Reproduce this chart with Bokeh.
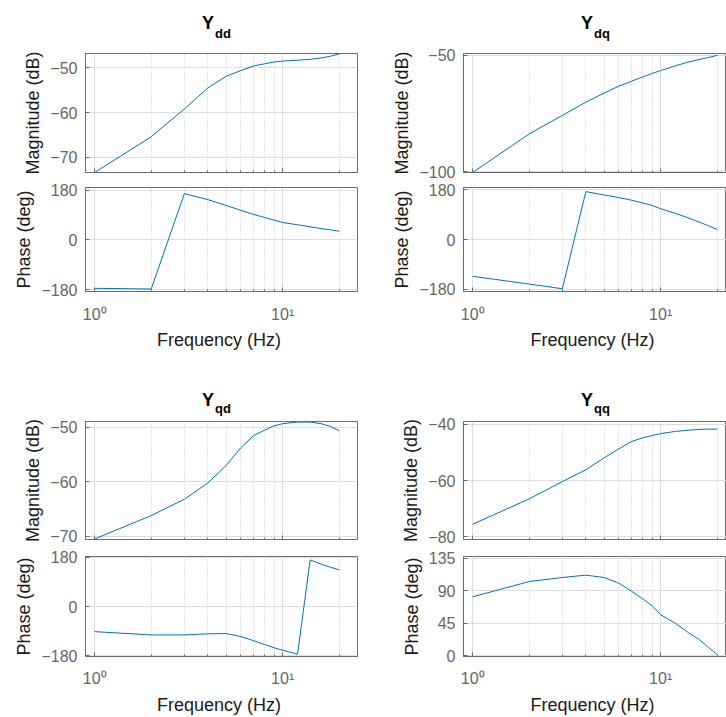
from bokeh.plotting import figure
from bokeh.layouts import column, row
from bokeh.models import Range1d, FixedTicker, CustomJSTickFormatter, Div
from bokeh.embed import file_html
from bokeh.resources import INLINE

# ---------------- data ----------------
freq_hz = [1, 2, 3, 4, 5, 6, 7, 8, 9, 10, 12, 14, 16, 18, 20]

ydd_mag_db = [-73.4, -65.4, -59.2, -54.5, -51.9, -50.6, -49.6, -49.1, -48.7, -48.5, -48.3, -48.1, -47.8, -47.4, -46.9]
ydd_phase_deg = [-175.5, -178.0, 168.0, 146.0, 125.0, 107.0, 92.5, 81.5, 72.0, 63.0, 55.0, 47.5, 41.0, 36.5, 31.5]

ydq_mag_db = [-100.4, -83.8, -75.9, -70.2, -66.3, -63.3, -61.2, -59.4, -57.9, -56.6, -54.6, -53.0, -51.9, -51.0, -50.1]
ydq_phase_deg = [-133.0, -161.0, -178.0, 174.0, 162.0, 152.5, 143.0, 133.5, 124.0, 112.0, 95.0, 79.0, 64.0, 50.0, 36.6]

yqd_mag_db = [-70.5, -66.2, -63.2, -60.2, -57.0, -53.7, -51.5, -50.5, -49.7, -49.3, -49.0, -49.0, -49.3, -49.8, -50.6]
yqd_phase_deg = [-92.0, -104.0, -104.0, -100.0, -99.0, -110.0, -125.0, -139.0, -151.0, -160.0, -174.5, 170.7, 155.0, 143.5, 134.0]

yqq_mag_db = [-75.5, -66.5, -60.4, -56.2, -52.0, -48.8, -46.2, -44.9, -44.1, -43.4, -42.6, -42.2, -41.9, -41.8, -41.8]
yqq_phase_deg = [81.4, 102.4, 108.1, 111.3, 108.1, 100.1, 89.0, 78.8, 69.0, 56.5, 44.5, 32.0, 22.3, 11.1, 1.3]

subscripts = ["dd", "dq", "qd", "qq"]
mag_ticks = [[-70, -60, -50], [-100, -50], [-70, -60, -50], [-80, -60, -40]]
phase_ticks = [[-180, 0, 180], [-180, 0, 180], [-180, 0, 180], [0, 45, 90, 135]]
mag_limits = [(-73.4, -46.8), (-100.4, -49.3), (-70.6, -48.9), (-80.9, -39.1)]
phase_limits = [(-187, 190), (-188, 189), (-183, 183), (-1.3, 137.1)]
x_major = [1, 10]
x_minor = [2, 3, 4, 5, 6, 7, 8, 9, 20]

# ---------------- style ----------------
FONT = "Liberation Sans"
BLUE = "#0072BD"
FRAME = "#6b6b6b"
TICKTXT = "#666666"
LABEL = "#1a1a1a"
GRID = "#dedede"
MINOR = "#c9c9c9"

X_START = 0.894
X_END_FULL = 25.0


def style(p, yticks, ylabel):
    p.outline_line_color = FRAME
    p.outline_line_width = 1
    p.background_fill_color = "white"
    p.border_fill_color = "white"
    p.yaxis.ticker = FixedTicker(ticks=yticks)
    p.xaxis.ticker = FixedTicker(ticks=x_major, minor_ticks=x_minor)
    for ax in p.axis:
        ax.axis_line_color = FRAME
        ax.major_tick_line_color = FRAME
        ax.minor_tick_line_color = FRAME
        ax.major_tick_in = 4
        ax.major_tick_out = 0
        ax.minor_tick_in = 2
        ax.minor_tick_out = 0
        ax.major_label_text_font = FONT
        ax.major_label_text_color = TICKTXT
        ax.major_label_text_font_size = "16px"
        ax.axis_label_text_font = FONT
        ax.axis_label_text_color = LABEL
        ax.axis_label_text_font_size = "18px"
        ax.axis_label_text_font_style = "normal"
    p.yaxis.minor_tick_line_color = None
    p.yaxis.major_label_standoff = 8
    p.yaxis.axis_label = ylabel
    p.yaxis.axis_label_standoff = 4
    p.xgrid.grid_line_color = GRID
    p.ygrid.grid_line_color = GRID
    p.xgrid.minor_grid_line_color = MINOR
    p.xgrid.minor_grid_line_dash = "1 2"


def title_div(w, h, sub, pad_left, pad_top, sub_drop):
    html = (
        f'<div style="margin:0;padding:{pad_top}px 0 0 {pad_left}px;text-align:left;'
        f"font-family:'{FONT}';font-weight:bold;font-size:18px;line-height:20px;"
        f'color:#000;white-space:nowrap;">Y<span style="font-size:13px;position:relative;'
        f'top:{sub_drop}px;margin-left:1px;">{sub}</span></div>'
    )
    return Div(text=html, width=w, height=h, margin=(0, 0, 0, 0))


def make_panel(i, mag, ph, left, bottom):
    if left:
        w, bl, br, x_end = 386, 85, 29, X_END_FULL
        pad_left = 202
    else:
        w, bl, br, x_end = 340, 77, 0, 22.4
        pad_left = 195
    if bottom:
        th, pad_top, sub_drop = 56, 30, 7
        mh, mt, mb = 131, 5, 8
        phh, pt, pb = 170, 9, 58
        lab_standoff, xl_standoff = 13, 5
    else:
        th, pad_top, sub_drop = 45, 13, 9
        mh, mt, mb = 135, 8, 8
        phh, pt, pb = 180, 7, 69
        lab_standoff, xl_standoff = 14, 4
    xr = Range1d(X_START, x_end)
    pm = figure(width=w, height=mh, x_axis_type="log", x_range=xr,
                y_range=Range1d(*mag_limits[i]),
                min_border_left=bl, min_border_right=br,
                min_border_top=mt, min_border_bottom=mb,
                toolbar_location=None, output_backend="svg")
    pp = figure(width=w, height=phh, x_axis_type="log", x_range=xr,
                y_range=Range1d(*phase_limits[i]),
                min_border_left=bl, min_border_right=br,
                min_border_top=pt, min_border_bottom=pb,
                toolbar_location=None, output_backend="svg")
    style(pm, mag_ticks[i], "Magnitude (dB)")
    style(pp, phase_ticks[i], "Phase (deg)")
    # magnitude: hidden x tick labels
    pm.xaxis.major_label_text_font_size = "1px"
    pm.xaxis.major_label_text_alpha = 0
    pm.xaxis.major_label_standoff = 0
    # phase: 10^n tick labels and frequency label
    pp.xaxis.formatter = CustomJSTickFormatter(code="return tick < 5 ? '10\u2070' : '10\u00b9';")
    pp.xaxis.major_label_standoff = lab_standoff
    pp.xaxis.axis_label = "Frequency  (Hz)"
    pp.xaxis.axis_label_standoff = xl_standoff

    pm.line(freq_hz, mag, line_color=BLUE, line_width=1)
    pp.line(freq_hz, ph, line_color=BLUE, line_width=1)

    td = title_div(w, th, subscripts[i], pad_left, pad_top, sub_drop)
    return column(td, pm, pp)


c1 = make_panel(0, ydd_mag_db, ydd_phase_deg, True, False)
c2 = make_panel(1, ydq_mag_db, ydq_phase_deg, False, False)
c3 = make_panel(2, yqd_mag_db, yqd_phase_deg, True, True)
c4 = make_panel(3, yqq_mag_db, yqq_phase_deg, False, True)

layout = column(row(c1, c2), row(c3, c4))

open("out.html", "w").write(file_html(layout, INLINE))
